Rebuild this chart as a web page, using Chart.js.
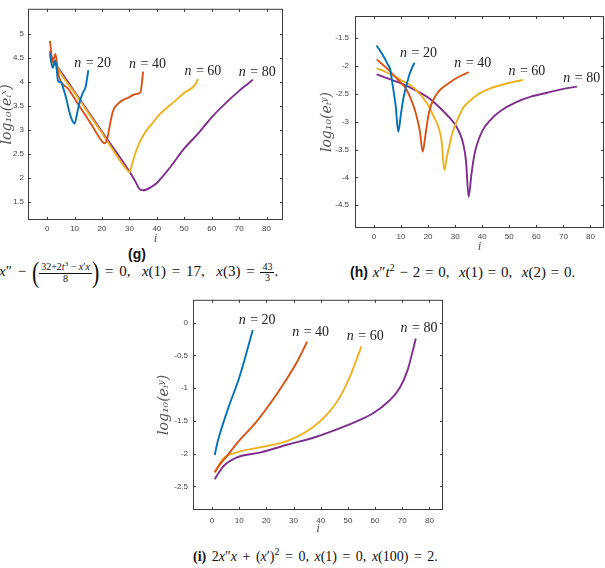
<!DOCTYPE html>
<html>
<head>
<meta charset="utf-8">
<script src="https://cdn.jsdelivr.net/npm/chart.js@4.4.0/dist/chart.umd.min.js"></script>
<style>
  body { margin: 0; background: #fff; width: 605px; height: 568px; position: relative; overflow: hidden; }
  .box { position: absolute; }
  .cap { position: absolute; font-family: "Liberation Serif", serif; font-size: 15px; white-space: nowrap; color: #111; word-spacing: 1px; }
  .cap i { font-style: italic; }
  .tag { font-family: "Liberation Sans", sans-serif; font-weight: bold; font-size: 14px; }
  .frac { display: inline-block; vertical-align: middle; text-align: center; font-size: 10px; line-height: 1.05; word-spacing: 0; }
  .frac > span { display: block; padding: 0 2px; }
  .frac > span:first-child { border-bottom: 0.8px solid #111; }
  .big { display: inline-block; font-size: 22px; vertical-align: middle; transform: scaleY(1.3); line-height: 1; }
  sup { font-size: 10px; }
</style>
</head>
<body>
<div class="box" style="left:0;top:0;width:300px;height:245px"><canvas id="chartG"></canvas></div>
<div class="box" style="left:300px;top:0;width:305px;height:253px"><canvas id="chartH"></canvas></div>
<div class="box" style="left:150px;top:290px;width:300px;height:245px"><canvas id="chartI"></canvas></div>

<div class="cap tag" style="left:128px;top:246px">(g)</div>
<div class="cap" style="left:-1px;top:261px;word-spacing:2px"><i>x</i>″ − <span class="big">(</span><span class="frac"><span>32+2<i>t</i><sup style="font-size:7px">3</sup> − <i>x</i>′<i>x</i></span><span>8</span></span><span class="big">)</span> = 0, &nbsp;<i>x</i>(1) = 17, &nbsp;<i>x</i>(3) = <span class="frac"><span>43</span><span>3</span></span>.</div>
<div class="cap" style="left:350px;top:262px"><span class="tag">(h)</span> <i>x</i>″<i>t</i><sup>2</sup> − 2 = 0, &nbsp;<i>x</i>(1) = 0, &nbsp;<i>x</i>(2) = 0.</div>
<div class="cap" style="left:193px;top:546px;font-size:14px;word-spacing:2px"><b>(i)</b> 2<i>x</i>″<i>x</i> + (<i>x</i>′)<sup>2</sup> = 0, <i>x</i>(1) = 0, <i>x</i>(100) = 2.</div>

<script>
// Series names and colours (MATLAB default order)
const seriesNames = ['n = 20', 'n = 40', 'n = 60', 'n = 80'];
const colors = ['#0072BD', '#D95319', '#EDB120', '#7E2F8E'];
const xTicks = [0, 10, 20, 30, 40, 50, 60, 70, 80];

// (g) data
const gBlueX = [1, 2, 3, 4, 5, 6, 7, 8, 9, 10, 11, 12, 13, 14, 15];
const gBlueY = [4.6, 4.3, 4.45, 4.02, 4.0, 3.85, 3.65, 3.4, 3.22, 3.14, 3.38, 3.62, 3.78, 3.9, 4.25];
const gOrangeX = [1, 2, 3, 4, 8, 12, 16, 20, 21, 22, 23, 24, 26, 28, 30, 32, 34, 35];
const gOrangeY = [4.86, 4.42, 4.59, 4.19, 3.84, 3.48, 3.13, 2.77, 2.73, 2.85, 3.15, 3.4, 3.56, 3.64, 3.69, 3.75, 3.79, 4.22];
const gYellowX = [1, 2, 3, 4, 10, 20, 29, 30, 31, 32, 34, 36, 38, 41, 46, 50, 54, 55];
const gYellowY = [4.55, 4.35, 4.42, 4.28, 3.78, 2.94, 2.18, 2.13, 2.3, 2.5, 2.78, 2.98, 3.12, 3.33, 3.58, 3.78, 3.95, 4.07];
const gPurpleX = [1, 2, 3, 10, 20, 30, 32, 34, 35, 36, 38, 40, 42, 45, 50, 55, 60, 65, 70, 73, 75];
const gPurpleY = [4.65, 4.45, 4.38, 3.8, 2.97, 2.14, 1.95, 1.76, 1.75, 1.76, 1.82, 1.9, 2.03, 2.24, 2.62, 2.93, 3.27, 3.56, 3.82, 3.96, 4.05];
const gYTicks = [1.5, 2, 2.5, 3, 3.5, 4, 4.5, 5];
const gLabelX = [16.4, 36.4, 56.6, 76.4];
const gLabelY = [4.39, 4.37, 4.22, 4.21];

// (h) data
const hBlueX = [1, 3, 5, 6, 7, 8, 9, 10, 11, 12, 13, 14, 15];
const hBlueY = [-1.63, -1.78, -1.96, -2.06, -2.37, -2.7, -3.18, -2.85, -2.55, -2.35, -2.17, -2.04, -1.94];
const hOrangeX = [1, 5, 9, 12, 15, 16, 17, 18, 19, 20, 21, 22, 24, 27, 31, 35];
const hOrangeY = [-1.88, -2.05, -2.25, -2.42, -2.77, -2.95, -3.18, -3.54, -3.25, -2.92, -2.72, -2.6, -2.45, -2.33, -2.2, -2.11];
const hYellowX = [1, 5, 10, 15, 20, 22, 24, 25, 26, 27, 28, 29, 31, 33, 36, 39, 43, 47, 51, 55];
const hYellowY = [-2.04, -2.12, -2.25, -2.4, -2.7, -2.9, -3.12, -3.35, -3.87, -3.62, -3.4, -3.2, -2.95, -2.75, -2.6, -2.49, -2.4, -2.34, -2.29, -2.25];
const hPurpleX = [1, 10, 16, 21, 25, 28, 30, 32, 33, 34, 35, 36, 37, 38, 40, 43, 47, 52, 58, 64, 70, 75];
const hPurpleY = [-2.15, -2.31, -2.45, -2.6, -2.78, -2.93, -3.05, -3.24, -3.4, -3.7, -4.35, -3.95, -3.62, -3.42, -3.17, -2.97, -2.8, -2.66, -2.55, -2.48, -2.41, -2.37];
const hYTicks = [-4.5, -4, -3.5, -3, -2.5, -2, -1.5];
const hLabelX = [16.3, 36.3, 56.3, 76.6];
const hLabelY = [-1.77, -1.95, -2.1, -2.22];

// (i) data
const iBlueX = [1, 2, 3, 6, 10, 12, 15];
const iBlueY = [-2.02, -1.83, -1.68, -1.3, -0.84, -0.56, -0.11];
const iOrangeX = [1, 3, 5, 10, 16, 22, 27, 31, 35];
const iOrangeY = [-2.28, -2.16, -2.06, -1.8, -1.53, -1.2, -0.89, -0.62, -0.29];
const iYellowX = [1, 4, 9, 18, 28, 37, 43, 47, 49, 51, 53, 55];
const iYellowY = [-2.29, -2.08, -1.98, -1.9, -1.8, -1.6, -1.37, -1.14, -0.98, -0.8, -0.58, -0.36];
const iPurpleX = [1, 4, 9, 18, 28, 37, 44, 49, 53, 59, 65, 69, 72, 75];
const iPurpleY = [-2.39, -2.2, -2.06, -1.98, -1.86, -1.76, -1.66, -1.58, -1.51, -1.39, -1.2, -1.0, -0.72, -0.24];
const iYTicks = [-2.5, -2, -1.5, -1, -0.5, 0];
const iLabelX = [16.4, 36.1, 56.2, 76.0];
const iLabelY = [0.04, -0.15, -0.21, -0.09];

// Box with inward ticks on all four sides, plus the n = .. labels
const framePlugin = {
    id: 'frame',
    afterDatasetsDraw(chart, args, opts) {
        const { ctx, chartArea: a, scales: { x, y } } = chart;
        ctx.save();
        ctx.strokeStyle = '#3c3c3c';
        ctx.lineWidth = 1;
        ctx.strokeRect(a.left + 0.5, a.top + 0.5, a.right - a.left - 1, a.bottom - a.top - 1);
        ctx.beginPath();
        x.ticks.forEach(t => {
            const px = Math.round(x.getPixelForValue(t.value)) + 0.5;
            ctx.moveTo(px, a.bottom); ctx.lineTo(px, a.bottom - 3);
            ctx.moveTo(px, a.top); ctx.lineTo(px, a.top + 3);
        });
        y.ticks.forEach(t => {
            const py = Math.round(y.getPixelForValue(t.value)) + 0.5;
            ctx.moveTo(a.left, py); ctx.lineTo(a.left + 3, py);
            ctx.moveTo(a.right, py); ctx.lineTo(a.right - 3, py);
        });
        ctx.stroke();

        // labels: italic "n", upright " = 20"
        ctx.fillStyle = '#222';
        ctx.textBaseline = 'middle';
        ctx.textAlign = 'left';
        seriesNames.forEach((name, k) => {
            const head = name.slice(0, 1), rest = name.slice(1);
            ctx.font = 'italic 14px "Liberation Serif"';
            const w1 = ctx.measureText(head).width;
            ctx.font = '14px "Liberation Serif"';
            const w2 = ctx.measureText(rest).width;
            const px = x.getPixelForValue(opts.lx[k]) - (w1 + w2) / 2;
            const py = y.getPixelForValue(opts.ly[k]);
            ctx.font = 'italic 14px "Liberation Serif"';
            ctx.fillText(head, px, py);
            ctx.font = '14px "Liberation Serif"';
            ctx.fillText(rest, px + w1 + 1, py);
        });
        ctx.restore();
    }
};

function makeSets(xsList, ysList) {
    return xsList.map((xs, k) => ({
        label: seriesNames[k],
        data: xs.map((v, j) => ({ x: v, y: ysList[k][j] })),
        borderColor: colors[k],
        borderWidth: 1.9,
        pointRadius: 0,
        cubicInterpolationMode: 'monotone',
        fill: false
    }));
}

function renderChart(id, sets, cfg) {
    const ctx = document.getElementById(id);
    return new Chart(ctx, {
        type: 'line',
        data: { datasets: sets },
        options: {
            responsive: true,
            maintainAspectRatio: false,
            animation: false,
            layout: { padding: cfg.pad },
            plugins: {
                legend: { display: false },
                tooltip: { enabled: false },
                frame: { lx: cfg.lx, ly: cfg.ly }
            },
            scales: {
                x: {
                    type: 'linear',
                    min: cfg.xMin, max: cfg.xMax,
                    grid: { display: false, drawTicks: false },
                    border: { display: false },
                    afterBuildTicks: s => { s.ticks = xTicks.map(v => ({ value: v })); },
                    afterFit: s => { s.height = cfg.xH; },
                    ticks: { padding: cfg.xPad, color: '#444', font: { family: 'Liberation Sans', size: 8 }, maxRotation: 0, callback: v => String(v) },
                    title: { display: true, text: 'i', color: '#555', padding: 0, font: { family: 'Liberation Serif', style: 'italic', size: 13, lineHeight: 1 } }
                },
                y: {
                    min: cfg.yMin, max: cfg.yMax,
                    grid: { display: false, drawTicks: false },
                    border: { display: false },
                    afterBuildTicks: s => { s.ticks = cfg.yTicks.map(v => ({ value: v })); },
                    afterFit: s => { s.width = cfg.yW; },
                    ticks: { padding: cfg.yPad, color: '#444', font: { family: 'Liberation Sans', size: 8 }, callback: v => String(v) },
                    title: { display: true, text: cfg.yTitle, color: '#555', padding: 0, font: { family: 'DejaVu Serif', style: 'italic', size: 14, lineHeight: 1 } }
                }
            }
        },
        plugins: [framePlugin]
    });
}

renderChart('chartG',
    makeSets([gBlueX, gOrangeX, gYellowX, gPurpleX], [gBlueY, gOrangeY, gYellowY, gPurpleY]),
    { pad: { top: 4, right: 17, left: 0, bottom: 0 }, xMin: -7, xMax: 86, yMin: 1.13, yMax: 5.53,
      yTicks: gYTicks, yW: 28, yPad: 4, xH: 25, xPad: 4, yTitle: 'log₁₀(eᵢˣ)', lx: gLabelX, ly: gLabelY });

renderChart('chartH',
    makeSets([hBlueX, hOrangeX, hYellowX, hPurpleX], [hBlueY, hOrangeY, hYellowY, hPurpleY]),
    { pad: { top: 16, right: 1, left: 20, bottom: 0 }, xMin: -7, xMax: 85, yMin: -4.91, yMax: -1.1,
      yTicks: hYTicks, yW: 35, yPad: 6, xH: 25, xPad: 4, yTitle: 'log₁₀(eᵢʸ)', lx: hLabelX, ly: hLabelY });

renderChart('chartI',
    makeSets([iBlueX, iOrangeX, iYellowX, iPurpleX], [iBlueY, iOrangeY, iYellowY, iPurpleY]),
    { pad: { top: 8, right: 7, left: 7, bottom: 0 }, xMin: -7, xMax: 85, yMin: -2.86, yMax: 0.35,
      yTicks: iYTicks, yW: 36, yPad: 5, xH: 25, xPad: 6, yTitle: 'log₁₀(eᵢʸ)', lx: iLabelX, ly: iLabelY });
</script>
</body>
</html>
